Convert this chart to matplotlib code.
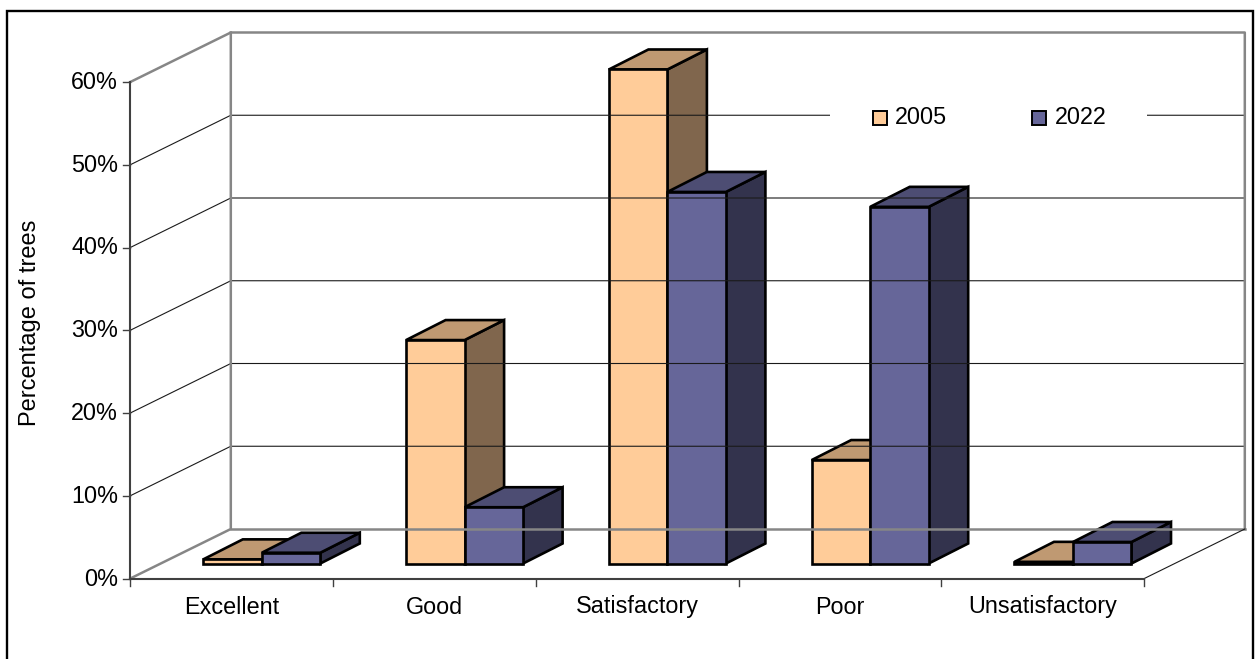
import numpy as np

import matplotlib
matplotlib.use('Agg')
import matplotlib.pyplot as plt
from matplotlib.patches import Polygon, Rectangle

categories = ['Excellent', 'Good', 'Satisfactory', 'Poor', 'Unsatisfactory']
years = ['2005', '2022']
values_2005 = [0.5, 27.0, 59.7, 12.5, 0.2]
values_2022 = [1.3, 6.8, 44.9, 43.1, 2.6]
y_ticks = [0, 10, 20, 30, 40, 50, 60]

front_cols = ['#FFCC99', '#666699']
top_cols = ['#BF9972', '#4D4D73']
side_cols = ['#80664D', '#33334D']

# pseudo 3d layout, all in pixels
x0, y0 = 130.3, 578.5
px_per_pct = 8.275
cat_w = 202.8
wall_dx, wall_dy = 100.5, -49.5
bar_w = 58.5
bar_start = 73
bar_base = -15
depth_dx, depth_dy = 39.5, -20
font_size = 16.8

def to_y(v):
    return y0 - v * px_per_pct

def draw_bar(ax, left, v, i):
    base = y0 + bar_base
    top = base - v * px_per_pct
    right = left + bar_w
    ec = dict(edgecolor='black', linewidth=1.9, joinstyle='miter')
    ax.add_patch(Polygon([(right, base), (right + depth_dx, base + depth_dy),
                          (right + depth_dx, top + depth_dy), (right, top)],
                         facecolor=side_cols[i], **ec))
    ax.add_patch(Polygon([(left, top), (left + depth_dx, top + depth_dy),
                          (right + depth_dx, top + depth_dy), (right, top)],
                         facecolor=top_cols[i], **ec))
    ax.add_patch(Rectangle((left, top), bar_w, base - top, facecolor=front_cols[i], **ec))

fig = plt.figure(figsize=(12.59, 6.59), dpi=100)
plt.rcParams['font.family'] = ['Liberation Sans', 'DejaVu Sans']
ax = fig.add_axes([0, 0, 1, 1])
ax.set_xlim(0, 1259)
ax.set_ylim(659, 0)
ax.set_axis_off()

# outer frame, open at the bottom
ax.plot([7.5, 7.5, 1253, 1253], [659, 11, 11, 659], color='black', lw=1.7,
        solid_joinstyle='miter')

x_end = x0 + cat_w * len(categories)
grey = '#868686'
dark = '#404040'

# grid on the back wall and side wall
for v in y_ticks[1:-1]:
    yy = to_y(v)
    ax.plot([x0, x0 + wall_dx, x_end + wall_dx], [yy, yy + wall_dy, yy + wall_dy],
            color='#1a1a1a', lw=0.8)

# walls
top_y = to_y(y_ticks[-1])
ax.plot([x0, x0 + wall_dx, x_end + wall_dx, x_end + wall_dx],
        [top_y, top_y + wall_dy, top_y + wall_dy, y0 + wall_dy], color=grey, lw=1.8)
ax.plot([x0, x0 + wall_dx, x0 + wall_dx], [y0, y0 + wall_dy, top_y + wall_dy], color=grey, lw=1.8)
ax.plot([x0 + wall_dx, x_end + wall_dx], [y0 + wall_dy, y0 + wall_dy], color=grey, lw=1.8)
ax.plot([x_end, x_end + wall_dx], [y0, y0 + wall_dy], color='#1a1a1a', lw=0.8)

# axes
ax.plot([x0, x0], [top_y, y0], color=dark, lw=1.5)
ax.plot([x0, x_end], [y0, y0], color=dark, lw=1.5)
for v in y_ticks:
    ax.plot([x0 - 7, x0], [to_y(v), to_y(v)], color=dark, lw=1)
    ax.text(118, to_y(v) + 7, f'{v}%', ha='right', va='baseline', fontsize=font_size, color='black')
for i in range(len(categories) + 1):
    ax.plot([x0 + i * cat_w] * 2, [y0, y0 + 7], color=dark, lw=1)

for i, name in enumerate(categories):
    ax.text(x0 + (i + 0.5) * cat_w, 613.5, name, ha='center', va='baseline', fontsize=font_size, color='black')

ax.text(36.5, 323, 'Percentage of trees', rotation=90, ha='center', va='baseline', rotation_mode='anchor',
        fontsize=17, color='black')

# bars, older series first so the newer one sits in front
series = [values_2005, values_2022]
for c in range(len(categories)):
    for i, vals in enumerate(series):
        left = x0 + c * cat_w + bar_start + i * bar_w
        draw_bar(ax, left, vals[c], i)

# legend on a white patch that interrupts the grid line
ax.add_patch(Rectangle((830, 100), 317, 30, facecolor='white', edgecolor='none', zorder=5))
for i, (yr, lx) in enumerate(zip(years, [873, 1032.5])):
    ax.add_patch(Rectangle((lx, 111), 14, 14, facecolor=front_cols[i], edgecolor='black',
                           linewidth=1.4, zorder=6))
    ax.text(lx + 22, 124, yr, ha='left', va='baseline', fontsize=font_size, color='black', zorder=6)

fig.savefig('out.png', dpi=100)
plt.close(fig)
